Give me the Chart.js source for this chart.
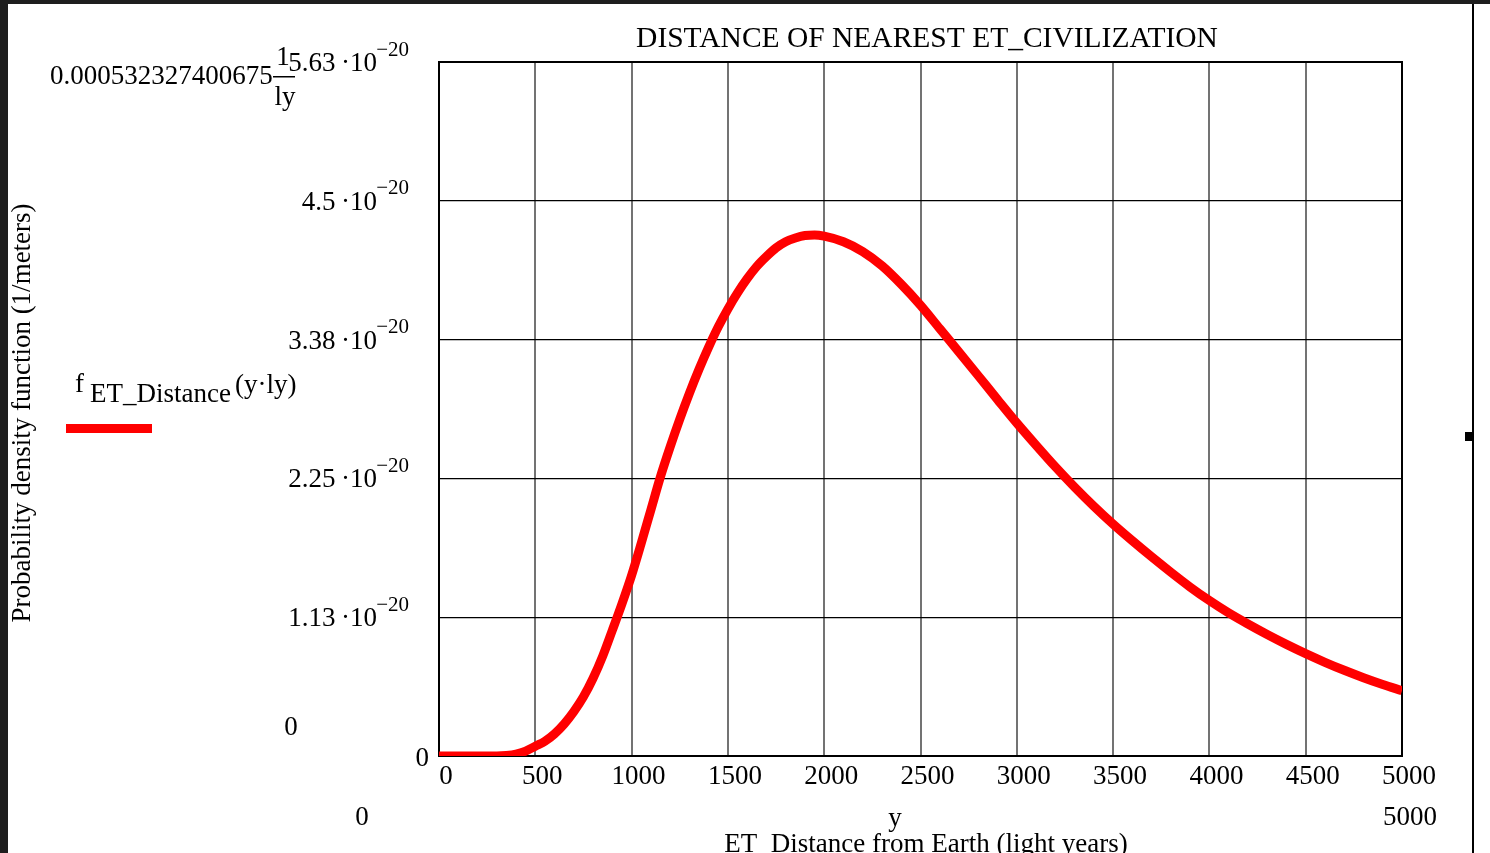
<!DOCTYPE html>
<html>
<head>
<meta charset="utf-8">
<script src="https://cdn.jsdelivr.net/npm/chart.js@4.4.0/dist/chart.umd.min.js"></script>
<style>
  body { margin: 0; background: #fff; overflow: hidden; }
  canvas { display: block; }
</style>
</head>
<body>
<canvas id="canvas" width="1490" height="853"></canvas>
<script>
// distance from Earth, light years
var distanceLy = [0, 100, 200, 300, 350, 400, 450, 500, 550, 600, 650, 700, 750, 800, 850, 900, 950,
  1000, 1050, 1100, 1150, 1200, 1250, 1300, 1350, 1400, 1450, 1500, 1550, 1600, 1650, 1700, 1750,
  1800, 1850, 1900, 1950, 2000, 2100, 2200, 2300, 2400, 2500, 2600, 2700, 2800, 2900,
  3000, 3100, 3200, 3300, 3400, 3500, 3600, 3700, 3800, 3900, 4000, 4100, 4200, 4300, 4400, 4500,
  4600, 4700, 4800, 4900, 5000];
// probability density, in units of 10^-20 per meter
var density = [0, 0, 0, 0, 0.004, 0.015, 0.04, 0.08, 0.12, 0.18, 0.26, 0.36, 0.48, 0.63, 0.81, 1.02, 1.235,
  1.465, 1.725, 1.995, 2.265, 2.505, 2.73, 2.94, 3.135, 3.315, 3.48, 3.625, 3.755, 3.87, 3.97, 4.05, 4.12,
  4.17, 4.20, 4.22, 4.225, 4.215, 4.17, 4.09, 3.975, 3.825, 3.655, 3.465, 3.275, 3.083, 2.89,
  2.70, 2.52, 2.345, 2.18, 2.025, 1.88, 1.745, 1.615, 1.49, 1.37, 1.26, 1.16, 1.07, 0.985, 0.905, 0.83,
  0.76, 0.695, 0.635, 0.58, 0.53];

var xTicks = [0, 500, 1000, 1500, 2000, 2500, 3000, 3500, 4000, 4500, 5000];
var yTicks = [0, 1.1254, 2.2508, 3.3762, 4.5016, 5.627];
var yTickLabels = ['0', '1.13', '2.25', '3.38', '4.5', '5.63'];
var yExponent = '\u221220';
var yMax = 5.627;

var serif = '"Liberation Serif", "DejaVu Serif", serif';

var points = distanceLy.map(function (d, i) {
  return { x: d, y: density[i] };
});

// all the Mathcad style text round the plot
var mathcadText = {
  id: 'mathcadText',
  beforeDatasetsDraw: function (chart) {
    var ctx = chart.ctx, a = chart.chartArea;
    ctx.save();
    ctx.strokeStyle = '#000';
    ctx.lineWidth = 2;
    ctx.strokeRect(a.left, a.top, a.right - a.left, a.bottom - a.top);
    ctx.restore();
  },
  afterDraw: function (chart) {
    var ctx = chart.ctx, a = chart.chartArea;
    var xs = chart.scales.x, ys = chart.scales.y;
    ctx.save();

    // window frame bits
    ctx.fillStyle = '#1e1e1e';
    ctx.fillRect(0, 0, 1490, 4);
    ctx.fillRect(0, 0, 8, 853);
    ctx.fillStyle = '#000';
    ctx.fillRect(1472, 4, 2, 849);
    ctx.fillRect(1465, 432, 8, 9);

    // title
    ctx.font = '29.5px ' + serif;
    ctx.textAlign = 'center';
    ctx.textBaseline = 'middle';
    ctx.fillText('DISTANCE OF NEAREST ET_CIVILIZATION', 927, 39);

    // x tick labels
    ctx.font = '27px ' + serif;
    xTicks.forEach(function (v) {
      ctx.fillText(String(v), xs.getPixelForValue(v) + 7, 777);
    });

    // y tick labels
    yTicks.forEach(function (v, i) {
      var py = ys.getPixelForValue(v);
      ctx.textAlign = 'right';
      ctx.font = '27px ' + serif;
      if (i === 0) {
        ctx.fillText('0', a.left - 10, py + 3);
        return;
      }
      ctx.fillText(yTickLabels[i] + '\u2009\u00b710', 377, py + 2);
      ctx.font = '21px ' + serif;
      ctx.fillText(yExponent, 409, py - 12);
    });

    // y limits
    ctx.font = '27px ' + serif;
    ctx.textAlign = 'left';
    ctx.fillText('0.000532327400675', 50, 77);
    ctx.textAlign = 'center';
    ctx.fillText('1', 283, 58);
    ctx.fillText('ly', 285, 98);
    ctx.fillRect(273, 76, 22, 1.5);
    ctx.fillText('0', 291, 728);

    // x limits and x label
    ctx.fillText('0', 362, 818);
    ctx.fillText('5000', 1410, 818);
    ctx.fillText('y', 895, 819);
    ctx.textBaseline = 'alphabetic';
    ctx.fillText('ET_Distance from Earth (light years)', 926, 852);

    // rotated y title
    ctx.save();
    ctx.translate(30, 413);
    ctx.rotate(-Math.PI / 2);
    ctx.textAlign = 'center';
    ctx.fillText('Probability density function (1/meters)', 0, 0);
    ctx.restore();

    // legend
    ctx.textAlign = 'left';
    ctx.fillText('f', 75, 392);
    ctx.fillText('ET_Distance', 90, 402);
    ctx.fillText('(y\u00b7ly)', 235, 393);
    ctx.fillStyle = '#ff0000';
    ctx.fillRect(66, 424, 86, 9);

    ctx.restore();
  }
};

var ctx = document.getElementById('canvas').getContext('2d');
var config = {
  type: 'line',
  data: {
    datasets: [{
      label: 'f ET_Distance(y·ly)',
      data: points,
      borderColor: '#ff0000',
      borderWidth: 9,
      pointRadius: 0,
      fill: false,
      cubicInterpolationMode: 'monotone',
      clip: 0
    }]
  },
  options: {
    responsive: false,
    devicePixelRatio: 1,
    animation: false,
    layout: { padding: { left: 439, top: 62, right: 88, bottom: 97 } },
    plugins: { legend: { display: false }, tooltip: { enabled: false }, title: { display: false } },
    scales: {
      x: {
        type: 'linear', min: 0, max: 5000,
        afterBuildTicks: function (s) { s.ticks = xTicks.map(function (v) { return { value: v }; }); },
        afterFit: function (s) { s.height = 0; },
        ticks: { display: false },
        border: { display: false },
        grid: { color: 'rgba(0,0,0,0.55)', lineWidth: 2, drawTicks: false }
      },
      y: {
        type: 'linear', min: 0, max: yMax,
        afterBuildTicks: function (s) { s.ticks = yTicks.map(function (v) { return { value: v }; }); },
        afterFit: function (s) { s.width = 0; },
        ticks: { display: false },
        border: { display: false },
        grid: { color: '#000', lineWidth: 1.2, drawTicks: false }
      }
    }
  },
  plugins: [mathcadText]
};
var chart = new Chart(ctx, config);
</script>
</body>
</html>
